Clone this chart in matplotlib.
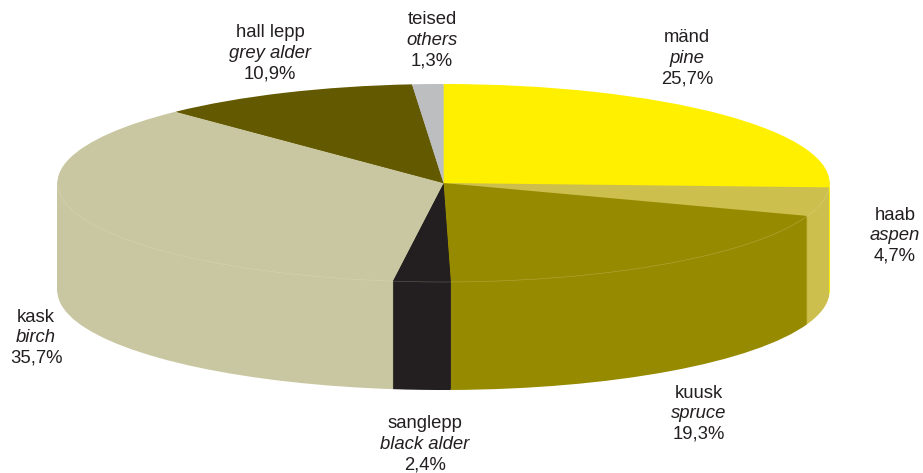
import matplotlib
matplotlib.use('Agg')
from matplotlib import pyplot as plt
from matplotlib.patches import Arc

names = ['mänd', 'haab', 'kuusk', 'sanglepp', 'kask', 'hall lepp', 'teised']
names_en = ['pine', 'aspen', 'spruce', 'black alder', 'birch', 'grey alder', 'others']
shares = [25.7, 4.7, 19.3, 2.4, 35.7, 10.9, 1.3]
colors = ['#fff000', '#ccbf4d', '#968a00', '#231f20', '#c9c7a1', '#635900', '#bcbec0']
# pixel position of the first line of each label
label_xy = [(687, 38), (895, 215), (699, 393), (425, 424), (36, 317), (270, 33), (432, 20)]

plt.rcParams['font.family'] = ['Liberation Sans', 'DejaVu Sans']

fig = plt.figure(figsize=(9.23, 4.73), dpi=100)
ax = fig.add_axes([0, 0, 1, 1])

# pixel frame: 1 unit of pie radius is 386 px wide and 99 px tall
cx, cy = 443.5, 183
rx, ry = 386, 99
depth = 108

# stack of pies from the bottom up gives the wall
for d in range(depth, -1, -1):
    ax.pie(shares, colors=colors, startangle=90, counterclock=False, radius=1,
           center=(0, -d / ry), frame=False, wedgeprops={'linewidth': 0})

# faint light rim along the front of the top face
ax.add_patch(Arc((0, 0), 2, 2, theta1=180, theta2=360, color='#f2f0d8',
                 linewidth=0.4, alpha=0.3))

ax.set_aspect('auto')
ax.set_xlim(-cx / rx, (923 - cx) / rx)
ax.set_ylim((cy - 473) / ry, cy / ry)
ax.axis('off')

line_gap = 20.7
for n, e, s, (x, y) in zip(names, names_en, shares, label_xy):
    lx = (x - cx) / rx
    ly = (cy - y) / ry
    pct = f'{s:.1f}%'.replace('.', ',')
    ax.text(lx, ly, n, ha='center', va='center', fontsize=13.3, color='#231f20')
    ax.text(lx, ly - line_gap / ry, e, ha='center', va='center', fontsize=13.3, style='italic', color='#231f20')
    ax.text(lx, ly - 2 * line_gap / ry, pct, ha='center', va='center', fontsize=13.3, color='#231f20')

fig.savefig('out.png', dpi=100)
